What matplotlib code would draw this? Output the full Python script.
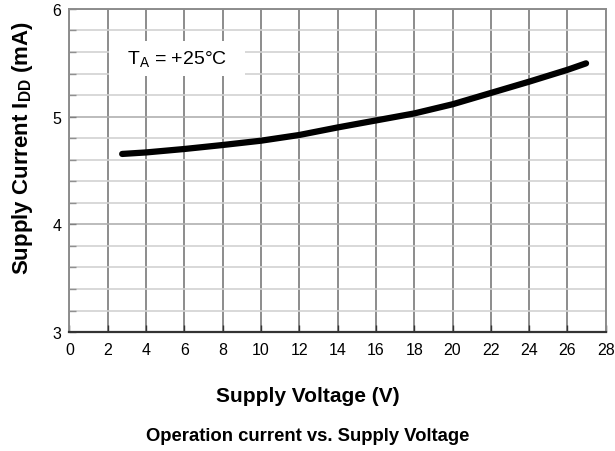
import matplotlib
matplotlib.use("Agg")
import matplotlib.pyplot as plt
from matplotlib.patches import Rectangle
import numpy as np

plt.rcParams['font.family'] = ['Liberation Sans', 'DejaVu Sans']
plt.rcParams['mathtext.fontset'] = 'custom'
plt.rcParams['mathtext.rm'] = 'Liberation Sans'
plt.rcParams['mathtext.bf'] = 'Liberation Sans:bold'

# Data
voltage = [2.75, 4, 6, 8, 10, 12, 14, 16, 18, 20, 22, 24, 26, 26.97]
current = [4.654, 4.668, 4.70, 4.737, 4.777, 4.83, 4.90, 4.965, 5.03, 5.115, 5.22, 5.325, 5.435, 5.495]
x_ticks = list(range(0, 29, 2))
y_ticks = [3, 4, 5, 6]

fig = plt.figure(figsize=(6.15, 4.52), dpi=100)
ax = fig.add_axes([0.113, 0.263, 0.872, 0.715])

ax.set_xlim(0, 28)
ax.set_ylim(3, 6)
ax.set_xticks(x_ticks)
ax.set_yticks(y_ticks)
ax.set_yticks(np.arange(3, 6.01, 0.2), minor=True)

ax.grid(True, which='minor', axis='y', color='#d2d2d2', linewidth=1.2)
ax.grid(True, which='major', axis='y', color='#b0b0b0', linewidth=1.2)
ax.grid(True, which='major', axis='x', color='#8c8c8c', linewidth=1.4)
ax.set_axisbelow(True)

# label box
ax.add_patch(Rectangle((2.08, 5.38), 7.07, 0.32, facecolor='white', edgecolor='none', zorder=1.5))

ax.plot(voltage, current, color='black', linewidth=4.5, solid_capstyle='round', zorder=3)

for s in ['top', 'right', 'left']:
    ax.spines[s].set_color('#8c8c8c')
    ax.spines[s].set_linewidth(1.4)
ax.spines['bottom'].set_color('#333333')
ax.spines['bottom'].set_linewidth(1.6)

ax.tick_params(axis='x', which='major', direction='in', length=5, width=1,
               color='#333333', labelsize=11.5, pad=7)
ax.tick_params(axis='y', which='major', direction='in', length=5, width=1,
               color='#808080', labelsize=11.5, pad=6)
ax.tick_params(axis='y', which='minor', direction='in', length=5, width=1, color='#909090')

ax.text(5.6, 5.54, 'T$_\\mathrm{A}$ = +25°C', fontsize=14, ha='center', va='center', zorder=4)

fig.text(0.5, 1 - 397 / 452, 'Supply Voltage (V)', fontsize=15, fontweight='bold',
         ha='center', va='center')
fig.text(22.5 / 615, 1 - 148 / 452, 'Supply Current I$_\\mathbf{DD}$ (mA)', fontsize=16,
         fontweight='bold', rotation=90, ha='center', va='center')
fig.text(0.5, 1 - 437 / 452, 'Operation current vs. Supply Voltage', fontsize=13.3,
         fontweight='bold', ha='center', va='center')

fig.savefig('out.png', dpi=100)
